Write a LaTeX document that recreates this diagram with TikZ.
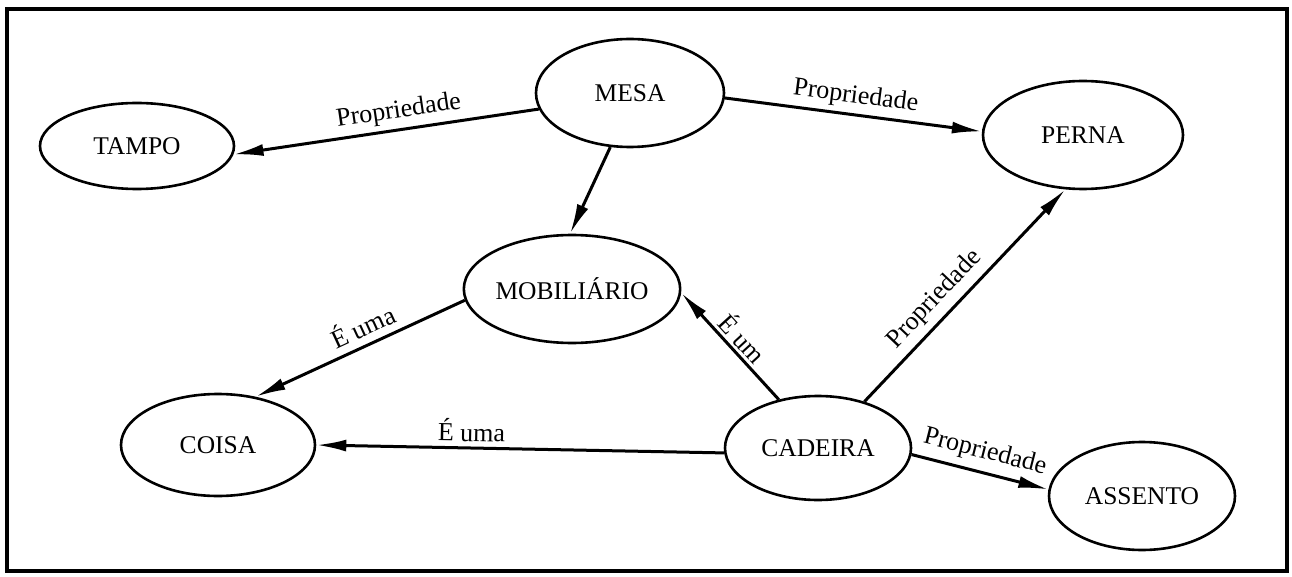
\documentclass[tikz,border=0pt]{standalone}
\usepackage{fontspec}
\setmainfont{Liberation Serif}
\usetikzlibrary{shapes.geometric,arrows.meta}
\begin{document}
\begin{tikzpicture}[x=1pt,y=-1pt,
  concept/.style={draw,ellipse,line width=2.6pt,inner sep=0pt,font=\fontsize{25.5}{28}\selectfont},
  rel/.style={line width=3pt,-{Latex[length=30pt,width=12pt]}},
  lbl/.style={font=\fontsize{26}{28}\selectfont,sloped,inner sep=5pt}]
\useasboundingbox (0,0) rectangle (1292,577);
\draw[line width=3.5pt] (7,9) rectangle (1287,571);
\node[concept,minimum width=194pt,minimum height=86pt] (tampo) at (137,146) {TAMPO};
\node[concept,minimum width=188pt,minimum height=108pt] (mesa) at (630,93) {MESA};
\node[concept,minimum width=200pt,minimum height=108pt] (perna) at (1083,135) {PERNA};
\node[concept,minimum width=188pt,minimum height=108pt] (mob) at (572,289) {MOBILIÁRIO};
\node[concept,minimum width=194pt,minimum height=102pt] (coisa) at (218,445) {COISA};
\node[concept,minimum width=186pt,minimum height=104pt] (cadeira) at (818,448) {CADEIRA};
\node[concept,minimum width=186pt,minimum height=108pt] (assento) at (1142,496) {ASSENTO};
\draw[rel] (mesa.190) -- node[lbl,above,pos=0.45] {Propriedade} (tampo.355);
\draw[rel] (mesa.357) -- node[lbl,above,pos=0.5] {Propriedade} (perna.178);
\draw[rel] (mesa.250) -- (mob.92);
\draw[rel] (mob.186) -- node[lbl,above,pos=0.45,inner sep=7pt] {É uma} (coisa.52);
\draw[rel] (cadeira.183) -- node[lbl,above,pos=0.62] {É uma} (coisa.0);
\draw[rel] (cadeira.129) -- node[lbl,above,pos=0.48,inner sep=3pt] {É um} (mob.358);
\draw[rel] (cadeira.45) -- node[lbl,above,pos=0.42,inner sep=6pt] {Propriedade} (perna.252);
\draw[rel] (cadeira.356) -- node[lbl,above,pos=0.5,inner sep=7pt] {Propriedade} (assento.176);
\end{tikzpicture}
\end{document}
